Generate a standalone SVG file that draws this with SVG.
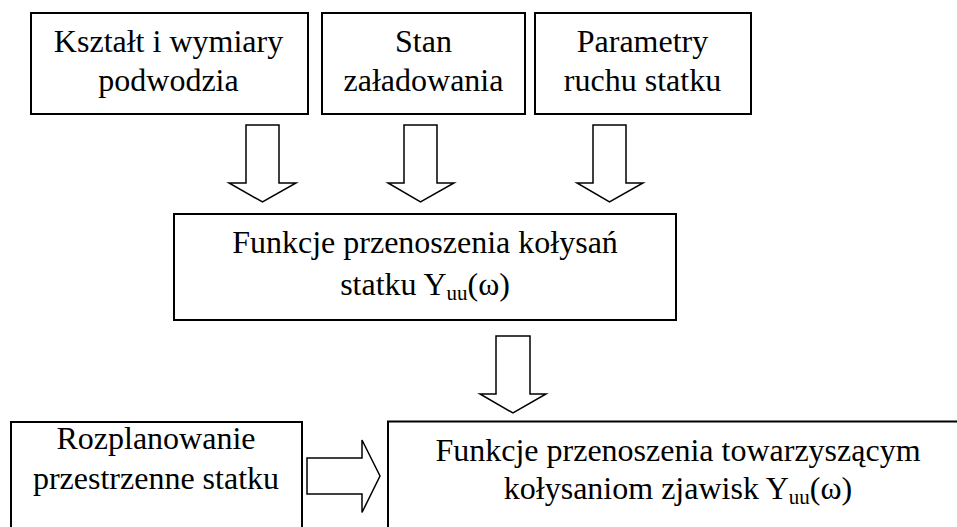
<svg xmlns="http://www.w3.org/2000/svg" width="957" height="527" viewBox="0 0 957 527">
  <style>
    .box { fill: #ffffff; stroke: #000000; stroke-width: 2; }
    .arrow { fill: #ffffff; stroke: #000000; stroke-width: 1.5; stroke-linejoin: miter; }
  </style>
  <rect width="957" height="527" fill="#ffffff"/>

  <g font-family="'Liberation Serif', 'Times New Roman', serif" font-size="32" fill="#000000" text-anchor="middle">
    <g id="node-ksztalt">
      <rect class="box" x="31" y="13" width="277" height="101"/>
      <text x="168.5" y="51.5">Kształt i wymiary</text>
      <text x="168.5" y="90.5">podwodzia</text>
    </g>

    <g id="node-stan">
      <rect class="box" x="322" y="13" width="203" height="101"/>
      <text x="423.5" y="52">Stan</text>
      <text x="423.5" y="90.5">załadowania</text>
    </g>

    <g id="node-parametry">
      <rect class="box" x="535" y="13" width="216" height="101"/>
      <text x="642.5" y="52">Parametry</text>
      <text x="642.5" y="90.5">ruchu statku</text>
    </g>

    <g id="node-funkcje-kolysan">
      <rect class="box" x="174" y="214" width="502" height="106"/>
      <text x="425" y="253">Funkcje przenoszenia kołysań</text>
      <text x="425" y="295">statku Y<tspan font-size="21" dy="5">uu</tspan><tspan dy="-5">(ω)</tspan></text>
    </g>

    <g id="node-rozplanowanie">
      <rect class="box" x="11" y="422" width="291" height="120"/>
      <text x="156" y="448.5">Rozplanowanie</text>
      <text x="156" y="489">przestrzenne statku</text>
    </g>

    <g id="node-funkcje-zjawisk">
      <rect class="box" x="388" y="421.5" width="600" height="120"/>
      <text x="678" y="461">Funkcje przenoszenia towarzyszącym</text>
      <text x="678" y="498.5">kołysaniom zjawisk Y<tspan font-size="21" dy="5">uu</tspan><tspan dy="-5">(ω)</tspan></text>
    </g>
  </g>

  <g id="connectors">
    <!-- block arrows: input boxes into the transfer function box -->
    <polygon class="arrow" points="246,125 279,125 279,183 296,183 262.5,202 229,183 246,183"/>
    <polygon class="arrow" points="404,125 437,125 437,183 454,183 420.5,202 388,183 404,183"/>
    <polygon class="arrow" points="593,125 626,125 626,183 643,183 609.5,202 577,183 593,183"/>
    <!-- transfer function box into phenomena box -->
    <polygon class="arrow" points="496,336 530,336 530,394 546,394 513,413 480,394 496,394"/>
    <!-- layout box into phenomena box -->
    <polygon class="arrow" points="307,458 362,458 362,440 380,476 362,512.5 362,494 307,494"/>
  </g>
</svg>
